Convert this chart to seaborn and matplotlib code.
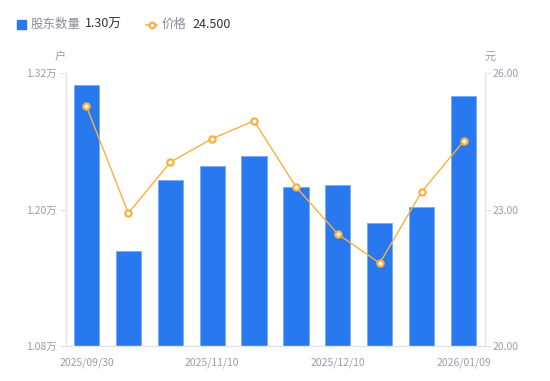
import numpy as np
import pandas as pd
import matplotlib
matplotlib.use('Agg')
import matplotlib.pyplot as plt
import seaborn as sns
from matplotlib.patches import Rectangle
from matplotlib.lines import Line2D

# --- dados ---
dates = ['2025/09/30', '2025/10/20', '2025/10/31', '2025/11/10', '2025/11/20',
         '2025/11/28', '2025/12/10', '2025/12/19', '2025/12/31', '2026/01/09']
holders = [1.310, 1.1635, 1.226, 1.238, 1.247, 1.220, 1.222, 1.188, 1.202, 1.300]  # 万户
prices = [25.27, 22.92, 24.04, 24.56, 24.95, 23.50, 22.46, 21.82, 23.39, 24.50]   # 元
shown_ticks = ['2025/09/30', '2025/11/10', '2025/12/10', '2026/01/09']
left_ticks = [1.08, 1.20, 1.32]
right_ticks = [20.0, 23.0, 26.0]

df = pd.DataFrame({'date': dates, 'holders': holders, 'price': prices, 'pos': range(len(dates))})

sns.set_theme(style='white')
plt.rcParams['font.family'] = ['Noto Sans CJK SC', 'DejaVu Sans']

blue = '#2878F0'
orange = '#F8B13C'
gray_txt = '#9a9cae'
axis_col = '#e3e4ea'

fig = plt.figure(figsize=(5.5, 3.81), dpi=100)
ax = fig.add_axes([65.5 / 550, 0.092, 419 / 550, 0.716])

sns.barplot(data=df, x='date', y='holders', color=blue, width=0.6,
            edgecolor='#7aaaf5', linewidth=0.6, saturation=1, ax=ax)
ax.set_ylim(1.08, 1.32)
ax.set_xlim(-0.5, 9.5)
ax.set_yticks(left_ticks)
ax.set_yticklabels([f'{v:.2f}万' for v in left_ticks])
ax.set_xticks([dates.index(d) for d in shown_ticks])
ax.set_xticklabels(shown_ticks)
ax.set_xlabel('')
ax.set_ylabel('')

ax2 = ax.twinx()
sns.lineplot(data=df, x='pos', y='price', color=orange, linewidth=1.0,
             marker='o', markersize=4.5, markerfacecolor='white',
             markeredgecolor=orange, markeredgewidth=1.6, ax=ax2)
ax2.set_ylim(20, 26)
ax2.set_yticks(right_ticks)
ax2.set_yticklabels([f'{v:.2f}' for v in right_ticks])
ax2.set_xlabel('')
ax2.set_ylabel('')
ax2.set_xlim(-0.5, 9.5)

for a in (ax, ax2):
    for s in a.spines.values():
        s.set_visible(False)
ax.spines['left'].set_visible(True)
ax.spines['bottom'].set_visible(True)
ax2.spines['right'].set_visible(True)
for s in (ax.spines['left'], ax.spines['bottom'], ax2.spines['right']):
    s.set_color(axis_col)
    s.set_linewidth(1)

ax.tick_params(axis='y', left=True, length=4, width=0.8, color=axis_col,
               labelsize=7.5, labelcolor=gray_txt, pad=2)
ax.tick_params(axis='x', bottom=False, labelsize=7.5, labelcolor=gray_txt, pad=2)
ax2.tick_params(axis='y', right=True, length=4, width=0.8, color=axis_col,
                labelsize=7.5, labelcolor=gray_txt, pad=2)

# rótulos de unidade
fig.text(60 / 550, 1 - 57 / 381, '户', fontsize=8, color=gray_txt, ha='center', va='center')
fig.text(490 / 550, 1 - 57 / 381, '元', fontsize=8, color=gray_txt, ha='center', va='center')

# legenda manual
fig.patches.append(Rectangle((17 / 550, 1 - 29 / 381), 9 / 550, 9 / 381,
                             transform=fig.transFigure, color=blue, figure=fig))
fig.text(31 / 550, 1 - 24.5 / 381, '股东数量', fontsize=9, color='#8a8c9a', va='center')
fig.text(85 / 550, 1 - 24.5 / 381, '1.30万', fontsize=9, color='#333333', va='center')
fig.lines.append(Line2D([146 / 550, 157 / 550], [1 - 24.5 / 381] * 2, transform=fig.transFigure,
                        color=orange, linewidth=1.2, figure=fig))
fig.lines.append(Line2D([151.5 / 550], [1 - 24.5 / 381], transform=fig.transFigure,
                        color=orange, marker='o', markersize=4, markerfacecolor='white',
                        markeredgewidth=1.6, linestyle='none', figure=fig))
fig.text(162 / 550, 1 - 24.5 / 381, '价格', fontsize=9, color='#8a8c9a', va='center')
fig.text(192 / 550, 1 - 24.5 / 381, '24.500', fontsize=9, color='#333333', va='center')

fig.savefig('out.png', dpi=100)
